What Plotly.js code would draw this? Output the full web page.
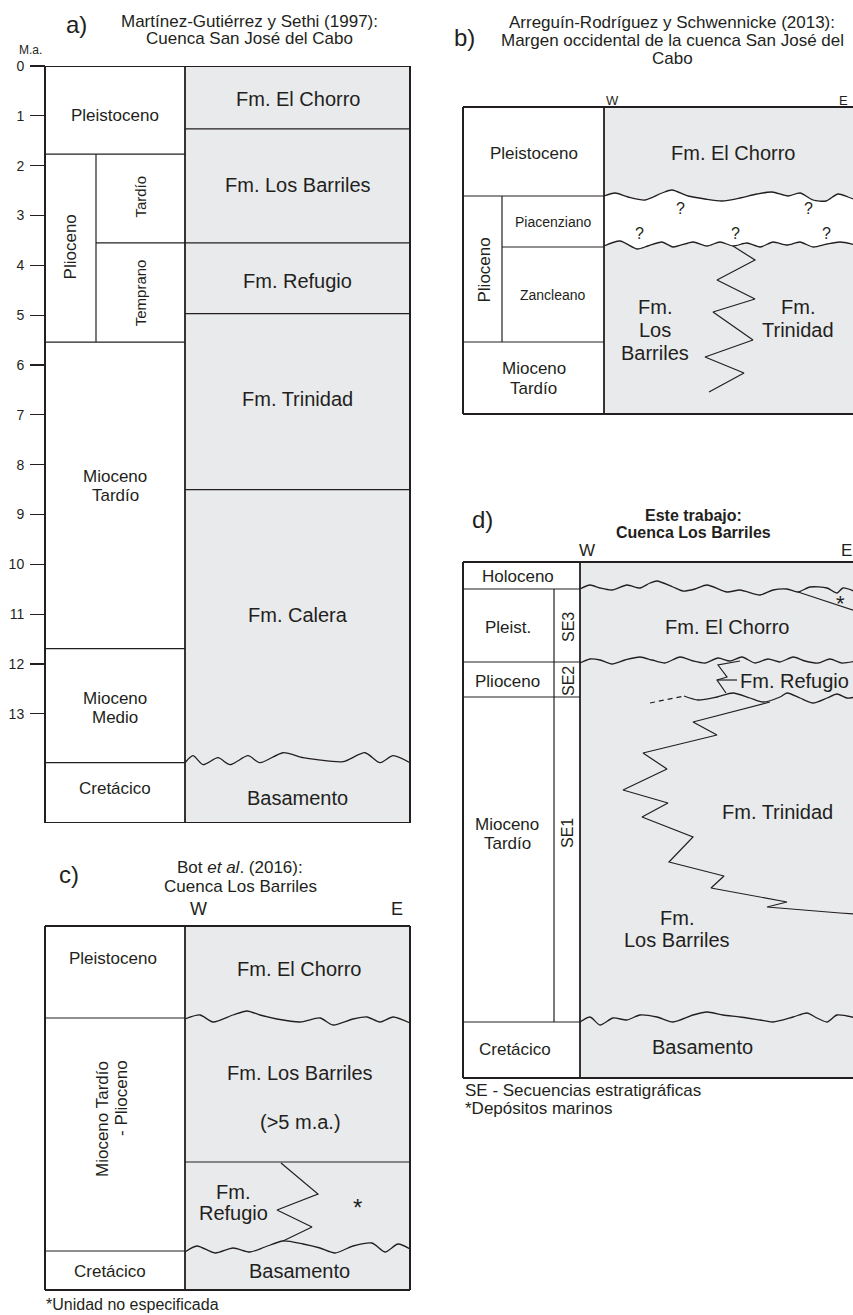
<!DOCTYPE html>
<html><head><meta charset="utf-8">
<script src="https://cdn.plot.ly/plotly-3.0.1.min.js"></script>
<style>html,body{margin:0;padding:0;background:#fff}#chart{width:853px;height:1315px}</style>
</head><body><div id="chart"></div>
<script>
// ================= DATA =================
// ---- Panel a: Martínez-Gutiérrez y Sethi (1997), ages in Ma ----
const aTicks = [0,1,2,3,4,5,6,7,8,9,10,11,12,13];
const aBase = 15.19;
const aEpochNames = ['Pleistoceno','Plioceno','Mioceno\nTardío','Mioceno\nMedio','Cretácico'];
const aEpochTop   = [0, 1.77, 5.54, 11.69, 13.98];
const aEpochLabelAge = [1.0, 3.63, 8.43, 12.88, 14.49];
const aSubNames = ['Tardío','Temprano'];
const aSubTop   = [1.77, 3.55];
const aSubLabelAge = [2.63, 4.55];
const aFmNames = ['Fm. El Chorro','Fm. Los Barriles','Fm. Refugio','Fm. Trinidad','Fm. Calera','Basamento'];
const aFmTop   = [0, 1.26, 3.55, 4.97, 8.5, 13.98];
const aFmLabelAge = [0.66, 2.39, 4.31, 6.68, 11.01, 14.69];
const aUnconfX   = [185,193,203,218,230,248,260,283,303,317,343,365,380,393,410];
const aUnconfAge = [13.98,13.84,14.02,13.88,14.02,13.84,13.98,13.78,13.88,13.92,13.96,13.78,13.98,13.84,13.98];

// ---- Panel b: Arreguín-Rodríguez y Schwennicke (2013) ----
const bEpochNames = ['Pleistoceno','Plioceno','Mioceno\nTardío'];
const bEpochTop = [107, 196, 342];
const bAgeNames = ['Piacenziano','Zancleano'];
const bAgeTop = [196, 247];
const bUnc1X = [604,615,628,645,662,672,688,705,722,740,757,772,788,800,813,826,838,848,856];
const bUnc1Y = [196,193,197,200,193,190,196,199,201,198,194,192,196,193,200,201,194,197,200];
const bUnc2X = [604,620,637,648,662,673,693,707,720,733,747,760,773,787,800,813,827,840,856];
const bUnc2Y = [246,241,249,246,242,247,242,246,242,246,243,247,242,245,242,247,244,242,245];
const bContactX = [733,755,717,755,713,753,705,744,709];
const bContactY = [246,260,280,299,312,340,357,373,392];
const bQueryX = [680,808,639,735,826];
const bQueryY = [208,208,233,233,233];

// ---- Panel c: Bot et al. (2016) ----
const cEpochNames = ['Pleistoceno','Mioceno Tardío','Cretácico'];
const cEpochTop = [926, 1018, 1251];
const cUnc1X = [185,200,213,233,247,260,277,300,320,333,353,367,380,393,410];
const cUnc1Y = [1019,1015,1022,1015,1011,1015,1019,1022,1018,1025,1019,1017,1022,1017,1023];
const cUnc2X = [185,197,215,233,250,265,283,303,320,335,353,372,385,398,410];
const cUnc2Y = [1252,1246,1253,1248,1252,1247,1241,1244,1248,1253,1246,1243,1252,1244,1249];
const cFmContact = 1162;
const cContactX = [281,318,277,312,283];
const cContactY = [1163,1194,1210,1227,1241];

// ---- Panel d: Este trabajo ----
const dEpochNames = ['Holoceno','Pleist.','Plioceno','Mioceno\nTardío','Cretácico'];
const dEpochTop = [562, 589, 662, 697, 1022];
const dSeqNames = ['SE3','SE2','SE1'];
const dUnc1X = [580,590,600,612,627,640,650,657,673,683,695,707,727,740,760,773,787,798,810,827,837,843,856];
const dUnc1Y = [589,585,588,590,585,588,583,581,587,591,589,585,592,590,595,590,589,592,587,588,593,588,592];
const dMarineX = [798,856];
const dMarineY = [592,611];
const dUnc2X = [580,590,600,612,625,640,652,665,680,693,705,718,730,742,755,768,780,793,805,818,830,842,856];
const dUnc2Y = [663,659,660,664,660,657,660,663,657,661,663,658,661,657,663,659,662,657,661,663,659,663,661];
const dRefugioX = [740,718,727,717,726];
const dRefugioY = [661,665,677,680,693];
const dUnc3DashX = [650,684];
const dUnc3DashY = [703,696];
const dUnc3X = [684,698,717,733,750,763,780,787,800,813,827,837,847,856];
const dUnc3Y = [696,700,697,693,698,702,697,693,698,703,698,694,698,697];
const dTrinidadX = [770,693,717,643,667,623,668,642,693,669,724,711,787,767,840,856];
const dTrinidadY = [702,722,735,753,769,790,803,817,837,862,876,888,902,907,913,914];
const dUnc4X = [580,590,600,613,627,640,657,673,693,707,723,740,760,773,793,807,817,827,837,856];
const dUnc4Y = [1022,1017,1025,1018,1020,1015,1017,1022,1015,1012,1015,1017,1020,1022,1017,1013,1018,1022,1015,1018];

// ================= DRAWING =================
const FONT = 'Liberation Sans, Arial, sans-serif';
const INK = '#231f20';
const GRAY = '#e9eaec';
const shapes = [], annotations = [], traces = [];

function rect(yr, x0, x1, y0, y1, fill) {
  shapes.push({type:'rect', xref:'x', yref:yr, x0, x1, y0, y1, fillcolor:fill, line:{width:0}, layer:'below'});
}
function seg(yr, x0, y0, x1, y1, w) {
  shapes.push({type:'line', xref:'x', yref:yr, x0, y0, x1, y1, line:{color:INK, width:w||1.2}, layer:'above'});
}
function box(yr, x0, x1, y0, y1) {
  seg(yr, x0, y0, x1, y0, 2); seg(yr, x0, y1, x1, y1, 2);
  seg(yr, x0, y0, x0, y1, 2); seg(yr, x1, y0, x1, y1, 2);
}
function text(yr, x, y, t, size, opt) {
  annotations.push(Object.assign({xref:'x', yref:yr, x, y, text:t, showarrow:false,
    font:{family:FONT, size, color:INK}}, opt||{}));
}
function multi(yr, x, y, t, size, gap, opt) {
  const arr = t.split('\n'); const n = arr.length;
  arr.forEach((s,i) => text(yr, x, y, s, size, Object.assign({yshift: ((n-1)/2 - i)*gap}, opt||{})));
}
function curve(yr, xs, ys, opt) {
  traces.push(Object.assign({type:'scatter', mode:'lines', x:xs, y:ys, xaxis:'x', yaxis:yr,
    hoverinfo:'skip', line:{color:INK, width:1.3, shape:'spline', smoothing:0.7}}, opt||{}));
}
function zig(yr, xs, ys, dash) {
  curve(yr, xs, ys, {line:{color:INK, width:1.2, shape:'linear', dash:dash||'solid'}});
}

// ---------- Panel a ----------
const A = {x0:45, xs:96, xm:185, x1:410};
rect('y2', A.xm, A.x1, 0, aBase, GRAY);
aEpochTop.forEach((t,i) => { if (i>0) seg('y2', A.x0, t, A.xm, t); });
seg('y2', A.xs, aSubTop[0], A.xs, aEpochTop[2]);
aSubTop.forEach((t,i) => { if (i>0) seg('y2', A.xs, t, A.xm, t); });
aFmTop.forEach((t,i) => { if (i>0 && i<aFmTop.length-1) seg('y2', A.xm, t, A.x1, t); });
curve('y2', aUnconfX, aUnconfAge);
box('y2', A.x0, A.x1, 0, aBase);
seg('y2', A.xm, 0, A.xm, aBase, 1.8);
aEpochNames.forEach((n,i) => {
  if (n === 'Plioceno') text('y2', (A.x0+A.xs)/2, aEpochLabelAge[i], n, 17, {textangle:-90});
  else multi('y2', (A.x0+A.xm)/2, aEpochLabelAge[i], n, 17, 19);
});
aSubNames.forEach((n,i) => text('y2', (A.xs+A.xm)/2, aSubLabelAge[i], n, 15, {textangle:-90}));
aFmNames.forEach((n,i) => text('y2', (A.xm+A.x1)/2, aFmLabelAge[i], n, 20));
text('y', 76, 24, 'a)', 24);
multi('y', 249, 30, 'Martínez-Gutiérrez y Sethi (1997):\nCuenca San José del Cabo', 17, 17);
text('y', 30, 50, 'M.a.', 12);

// ---------- Panel b ----------
const B = {x0:463, xs:502, xm:604, x1:857, y0:107, y1:414};
rect('y', B.xm, B.x1, B.y0, B.y1, GRAY);
traces.push({type:'scatter', mode:'lines', x:bUnc1X.concat(bUnc2X.slice().reverse()),
  y:bUnc1Y.concat(bUnc2Y.slice().reverse()), xaxis:'x', yaxis:'y', fill:'toself', fillcolor:'#ffffff',
  line:{width:0, shape:'spline', smoothing:0.7}, hoverinfo:'skip'});
curve('y', bUnc1X, bUnc1Y);
curve('y', bUnc2X, bUnc2Y);
zig('y', bContactX, bContactY);
seg('y', B.x0, bEpochTop[1], B.xm, bEpochTop[1]);
seg('y', B.x0, bEpochTop[2], B.xm, bEpochTop[2]);
seg('y', B.xs, bAgeTop[1], B.xm, bAgeTop[1]);
seg('y', B.xs, bEpochTop[1], B.xs, bEpochTop[2]);
box('y', B.x0, B.x1, B.y0, B.y1);
seg('y', B.xm, B.y0, B.xm, B.y1, 1.8);
text('y', (B.x0+B.xm)/2, 153, bEpochNames[0], 17);
text('y', (B.x0+B.xs)/2+1, 270, bEpochNames[1], 17, {textangle:-90});
multi('y', (B.x0+B.xm)/2, 378, bEpochNames[2], 17, 20);
text('y', (B.xs+B.xm)/2, 222, bAgeNames[0], 14);
text('y', (B.xs+B.xm)/2, 295, bAgeNames[1], 14);
text('y', 733, 153, 'Fm. El Chorro', 20);
multi('y', 655, 330, 'Fm.\nLos\nBarriles', 20, 23);
multi('y', 798, 318, 'Fm.\nTrinidad', 20, 23);
bQueryX.forEach((x,i) => text('y', x, bQueryY[i], '?', 16));
text('y', 612, 100, 'W', 13);
text('y', 843, 100, 'E', 13);
text('y', 464, 37, 'b)', 24);
multi('y', 672, 40, 'Arreguín-Rodríguez y Schwennicke (2013):\nMargen occidental de la cuenca San José del\nCabo', 17, 18);

// ---------- Panel c ----------
const C = {x0:45, xm:185, x1:410, y0:926, y1:1290};
rect('y', C.xm, C.x1, C.y0, C.y1, GRAY);
cEpochTop.forEach((t,i) => { if (i>0) seg('y', C.x0, t, C.xm, t); });
seg('y', C.xm, cFmContact, C.x1, cFmContact);
curve('y', cUnc1X, cUnc1Y);
curve('y', cUnc2X, cUnc2Y);
zig('y', cContactX, cContactY);
box('y', C.x0, C.x1, C.y0, C.y1);
seg('y', C.xm, C.y0, C.xm, C.y1, 1.8);
text('y', 113, 958, cEpochNames[0], 17);
text('y', 102, 1119, cEpochNames[1], 17, {textangle:-90});
text('y', 121, 1098, '- Plioceno', 17, {textangle:-90});
text('y', 110, 1271, cEpochNames[2], 17);
text('y', 299, 969, 'Fm. El Chorro', 20);
text('y', 300, 1073, 'Fm. Los Barriles', 20);
text('y', 300, 1122, '(>5 m.a.)', 20);
multi('y', 233, 1202, 'Fm.\nRefugio', 20, 21);
text('y', 357, 1207, '*', 24);
text('y', 299, 1271, 'Basamento', 20);
text('y', 69, 874, 'c)', 24);
multi('y', 240, 877, 'Bot <i>et al</i>. (2016):\nCuenca Los Barriles', 17, 19);
text('y', 198, 909, 'W', 18);
text('y', 397, 909, 'E', 18);
text('y', 45, 1304, '*Unidad no especificada', 16, {xanchor:'left', borderpad:0});

// ---------- Panel d ----------
const D = {x0:463, xs:554, xm:580, x1:857, y0:562, y1:1078};
rect('y', D.xm, D.x1, D.y0, D.y1, GRAY);
dEpochTop.forEach((t,i) => { if (i>0) seg('y', D.x0, t, D.xm, t); });
seg('y', D.xs, dEpochTop[1], D.xs, dEpochTop[4]);
curve('y', dUnc1X, dUnc1Y);
zig('y', dMarineX, dMarineY);
curve('y', dUnc2X, dUnc2Y);
zig('y', dRefugioX, dRefugioY);
zig('y', [dRefugioX[3], 737], [dRefugioY[3], dRefugioY[3]]);
zig('y', dUnc3DashX, dUnc3DashY, '5px,4px');
curve('y', dUnc3X, dUnc3Y);
zig('y', dTrinidadX, dTrinidadY);
curve('y', dUnc4X, dUnc4Y);
box('y', D.x0, D.x1, D.y0, D.y1);
seg('y', D.xm, D.y0, D.xm, D.y1, 1.8);
text('y', 518, 576, dEpochNames[0], 17);
text('y', 508, 627, dEpochNames[1], 17);
text('y', 507, 681, dEpochNames[2], 17);
multi('y', 507, 834, dEpochNames[3], 17, 19);
text('y', 515, 1049, dEpochNames[4], 17);
text('y', 568, 627, dSeqNames[0], 16, {textangle:-90});
text('y', 568, 681, dSeqNames[1], 16, {textangle:-90});
text('y', 567, 833, dSeqNames[2], 16, {textangle:-90});
text('y', 727, 627, 'Fm. El Chorro', 20);
text('y', 738, 681, 'Fm. Refugio', 20, {xanchor:'left'});
text('y', 777, 812, 'Fm. Trinidad', 20);
multi('y', 677, 929, 'Fm.\nLos Barriles', 20, 22);
text('y', 702, 1047, 'Basamento', 20);
text('y', 840, 603, '*', 22);
text('y', 482, 519, 'd)', 24);
multi('y', 693, 524, '<b>Este trabajo:</b>\n<b>Cuenca Los Barriles</b>', 16, 17);
text('y', 587, 550, 'W', 17);
text('y', 846, 550, 'E', 17);
text('y', 463, 1090, 'SE - Secuencias estratigráficas', 17, {xanchor:'left'});
text('y', 463, 1108, '*Depósitos marinos', 17, {xanchor:'left'});

const layout = {
  width:853, height:1315, margin:{l:0,r:0,t:0,b:0}, autosize:false,
  paper_bgcolor:'#ffffff', plot_bgcolor:'rgba(0,0,0,0)', showlegend:false,
  xaxis:{range:[0,853], domain:[0,1], visible:false, fixedrange:true},
  yaxis:{range:[1315,0], domain:[0,1], visible:false, fixedrange:true},
  yaxis2:{range:[aBase,0], domain:[1-823/1315, 1-66/1315], anchor:'free', position:45/853,
    tickvals:aTicks, ticks:'outside', ticklen:15, tickwidth:1.2, tickcolor:INK,
    showline:false, showgrid:false, zeroline:false, ticklabelstandoff:3,
    tickfont:{family:FONT, size:14, color:INK}, fixedrange:true},
  shapes, annotations
};
Plotly.newPlot('chart', traces, layout, {staticPlot:true, displayModeBar:false});
</script></body></html>
